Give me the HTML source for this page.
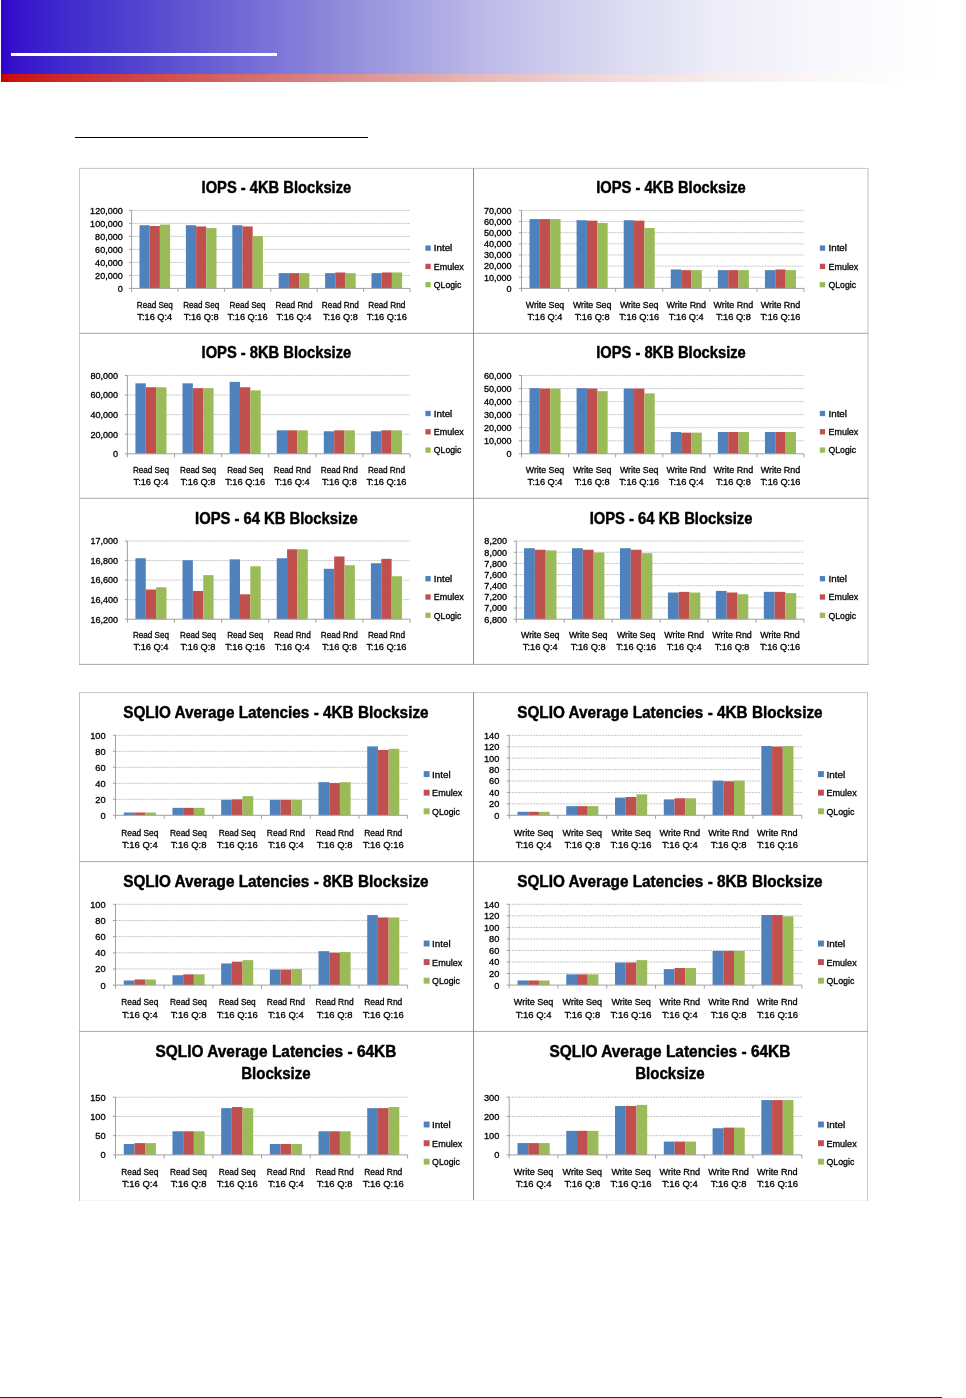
<!DOCTYPE html>
<html lang="en"><head><meta charset="utf-8"><title>IOPS and SQLIO latency charts</title>
<style>
html,body{margin:0;padding:0;background:#fff}
body{width:966px;height:1398px;position:relative;overflow:hidden;font-family:"Liberation Sans",sans-serif}
.hb{position:absolute;left:1px;top:0;width:941px;height:74.2px;background:linear-gradient(90deg,rgb(51,0,204) 1px,rgb(54,16,204) 11px,rgb(63,40,205) 59px,rgb(77,62,206) 119px,rgb(113,105,213) 240px,rgb(151,146,221) 359px,rgb(188,185,232) 482px,rgb(216,215,240) 599px,rgb(238,237,248) 719px,rgb(249,249,253) 839px,rgb(255,255,255) 941px)}
.hr{position:absolute;left:1px;top:74.2px;width:941px;height:7.7px;background:linear-gradient(90deg,rgb(204,0,0) 1px,rgb(204,16,16) 11px,rgb(205,40,40) 59px,rgb(206,62,62) 119px,rgb(213,105,105) 240px,rgb(221,146,146) 359px,rgb(232,185,185) 482px,rgb(240,215,215) 599px,rgb(248,237,237) 719px,rgb(253,249,249) 839px,rgb(255,255,255) 941px)}
.wl{position:absolute;left:11px;top:52.9px;width:266px;height:3.1px;background:#fff}
.bl{position:absolute;left:75px;top:136.8px;width:292.8px;height:1.5px;background:#000}
.fl{position:absolute;left:0;top:1396.8px;width:942px;height:1.4px;background:#3300cc}
svg text{font-family:"Liberation Sans",sans-serif;fill:#000;stroke:#000;stroke-width:.3px;stroke-linejoin:round}
svg .h{font-weight:bold;stroke-width:.45px}
svg .g{stroke:#bcbcbc;stroke-width:.9;stroke-dasharray:2 1;fill:none}
svg .a{stroke:#a0a0a0;stroke-width:1;fill:none}
svg .b{stroke:#bdbdbd;stroke-width:1;fill:none}
</style></head><body>
<div class="hb"></div><div class="hr"></div><div class="wl"></div><div class="bl"></div>
<svg width="966" height="1398" viewBox="0 0 966 1398" style="position:absolute;left:0;top:0">
<path d="M79 168.4H868.6" stroke="#c6c6c6" stroke-width="1" fill="none"/>
<path d="M79.5 168.4V664.9" stroke="#cbcbcb" stroke-width="1" fill="none"/>
<path d="M868 168.4V664.9" stroke="#d6d6d6" stroke-width="1.5" fill="none"/>
<path d="M79 664.4H868.6" stroke="#a8a8a8" stroke-width="1" fill="none"/>
<path d="M79 333.3H868.6M79 498.3H868.6" stroke="#a6a6a6" stroke-width="1" fill="none"/>
<path d="M473.5 168.4V664.4" stroke="#8e8e8e" stroke-width="1" fill="none"/>
<path d="M79 692.6H868" stroke="#c8c8c8" stroke-width="1" fill="none"/>
<path d="M79.5 692.6V1200.9" stroke="#c2c2c2" stroke-width="1" fill="none"/>
<path d="M867.5 692.6V1200.9" stroke="#c6c6c6" stroke-width="1" fill="none"/>
<path d="M79 861.6H868M79 1031.4H868" stroke="#a6a6a6" stroke-width="1" fill="none"/>
<path d="M473.5 692.6V1200.9" stroke="#8e8e8e" stroke-width="1" fill="none"/>
<path d="M80 1200.5H867" stroke="#f6f6f6" stroke-width="1" fill="none"/>
<g><line class="g" x1="131.6" y1="275.4" x2="410" y2="275.4"/>
<line class="g" x1="131.6" y1="262.4" x2="410" y2="262.4"/>
<line class="g" x1="131.6" y1="249.4" x2="410" y2="249.4"/>
<line class="g" x1="131.6" y1="236.4" x2="410" y2="236.4"/>
<line class="g" x1="131.6" y1="223.4" x2="410" y2="223.4"/>
<line class="g" x1="131.6" y1="210.4" x2="410" y2="210.4"/>
<rect x="139.5" y="225.22" width="10.2" height="63.18" fill="#4f81bd"/>
<rect x="149.7" y="226" width="10.2" height="62.4" fill="#c0504d"/>
<rect x="159.9" y="224.57" width="10.2" height="63.83" fill="#9bbb59"/>
<rect x="185.9" y="225.22" width="10.2" height="63.18" fill="#4f81bd"/>
<rect x="196.1" y="226.45" width="10.2" height="61.94" fill="#c0504d"/>
<rect x="206.3" y="228.08" width="10.2" height="60.32" fill="#9bbb59"/>
<rect x="232.3" y="225.22" width="10.2" height="63.18" fill="#4f81bd"/>
<rect x="242.5" y="226.45" width="10.2" height="61.94" fill="#c0504d"/>
<rect x="252.7" y="236.07" width="10.2" height="52.32" fill="#9bbb59"/>
<rect x="278.7" y="273.12" width="10.2" height="15.27" fill="#4f81bd"/>
<rect x="288.9" y="273.12" width="10.2" height="15.27" fill="#c0504d"/>
<rect x="299.1" y="273.12" width="10.2" height="15.27" fill="#9bbb59"/>
<rect x="325.1" y="273.12" width="10.2" height="15.27" fill="#4f81bd"/>
<rect x="335.3" y="272.47" width="10.2" height="15.92" fill="#c0504d"/>
<rect x="345.5" y="273.12" width="10.2" height="15.27" fill="#9bbb59"/>
<rect x="371.5" y="273.12" width="10.2" height="15.27" fill="#4f81bd"/>
<rect x="381.7" y="272.47" width="10.2" height="15.92" fill="#c0504d"/>
<rect x="391.9" y="272.47" width="10.2" height="15.92" fill="#9bbb59"/>
<path class="a" d="M131.6 210.4V288.4H410"/>
<path class="a" d="M129 288.4H131.6M129 275.4H131.6M129 262.4H131.6M129 249.4H131.6M129 236.4H131.6M129 223.4H131.6M129 210.4H131.6M131.6 288.4V291.9M178 288.4V291.9M224.4 288.4V291.9M270.8 288.4V291.9M317.2 288.4V291.9M363.6 288.4V291.9M410 288.4V291.9"/>
<text class="t" x="122.8" y="291.7" text-anchor="end" font-size="8.88" textLength="5.04" lengthAdjust="spacingAndGlyphs">0</text>
<text class="t" x="122.8" y="278.7" text-anchor="end" font-size="8.88" textLength="27.66" lengthAdjust="spacingAndGlyphs">20,000</text>
<text class="t" x="122.8" y="265.7" text-anchor="end" font-size="8.88" textLength="27.66" lengthAdjust="spacingAndGlyphs">40,000</text>
<text class="t" x="122.8" y="252.7" text-anchor="end" font-size="8.88" textLength="27.66" lengthAdjust="spacingAndGlyphs">60,000</text>
<text class="t" x="122.8" y="239.7" text-anchor="end" font-size="8.88" textLength="27.66" lengthAdjust="spacingAndGlyphs">80,000</text>
<text class="t" x="122.8" y="226.7" text-anchor="end" font-size="8.88" textLength="32.69" lengthAdjust="spacingAndGlyphs">100,000</text>
<text class="t" x="122.8" y="213.7" text-anchor="end" font-size="8.88" textLength="32.69" lengthAdjust="spacingAndGlyphs">120,000</text>
<text class="t" x="154.8" y="307.8" text-anchor="middle" font-size="8.88" textLength="36.03" lengthAdjust="spacingAndGlyphs">Read Seq</text>
<text class="t" x="154.8" y="319.8" text-anchor="middle" font-size="8.88" textLength="34.86" lengthAdjust="spacingAndGlyphs">T:16 Q:4</text>
<text class="t" x="201.2" y="307.8" text-anchor="middle" font-size="8.88" textLength="36.03" lengthAdjust="spacingAndGlyphs">Read Seq</text>
<text class="t" x="201.2" y="319.8" text-anchor="middle" font-size="8.88" textLength="34.86" lengthAdjust="spacingAndGlyphs">T:16 Q:8</text>
<text class="t" x="247.6" y="307.8" text-anchor="middle" font-size="8.88" textLength="36.03" lengthAdjust="spacingAndGlyphs">Read Seq</text>
<text class="t" x="247.6" y="319.8" text-anchor="middle" font-size="8.88" textLength="39.99" lengthAdjust="spacingAndGlyphs">T:16 Q:16</text>
<text class="t" x="294" y="307.8" text-anchor="middle" font-size="8.88" textLength="37.1" lengthAdjust="spacingAndGlyphs">Read Rnd</text>
<text class="t" x="294" y="319.8" text-anchor="middle" font-size="8.88" textLength="34.86" lengthAdjust="spacingAndGlyphs">T:16 Q:4</text>
<text class="t" x="340.4" y="307.8" text-anchor="middle" font-size="8.88" textLength="37.1" lengthAdjust="spacingAndGlyphs">Read Rnd</text>
<text class="t" x="340.4" y="319.8" text-anchor="middle" font-size="8.88" textLength="34.86" lengthAdjust="spacingAndGlyphs">T:16 Q:8</text>
<text class="t" x="386.8" y="307.8" text-anchor="middle" font-size="8.88" textLength="37.1" lengthAdjust="spacingAndGlyphs">Read Rnd</text>
<text class="t" x="386.8" y="319.8" text-anchor="middle" font-size="8.88" textLength="39.99" lengthAdjust="spacingAndGlyphs">T:16 Q:16</text>
<text class="h" x="276.4" y="193" text-anchor="middle" font-size="16.6" textLength="149.6" lengthAdjust="spacingAndGlyphs">IOPS - 4KB Blocksize</text>
<rect x="425.4" y="245.45" width="5.3" height="5.3" fill="#4f81bd"/>
<text class="t" x="433.8" y="251.4" font-size="8.88" textLength="18.45" lengthAdjust="spacingAndGlyphs">Intel</text>
<rect x="425.4" y="263.75" width="5.3" height="5.3" fill="#c0504d"/>
<text class="t" x="433.8" y="269.7" font-size="8.88" textLength="29.82" lengthAdjust="spacingAndGlyphs">Emulex</text>
<rect x="425.4" y="282.05" width="5.3" height="5.3" fill="#9bbb59"/>
<text class="t" x="433.8" y="288" font-size="8.88" textLength="27.52" lengthAdjust="spacingAndGlyphs">QLogic</text></g>
<g><line class="g" x1="521.5" y1="277.26" x2="804" y2="277.26"/>
<line class="g" x1="521.5" y1="266.11" x2="804" y2="266.11"/>
<line class="g" x1="521.5" y1="254.97" x2="804" y2="254.97"/>
<line class="g" x1="521.5" y1="243.83" x2="804" y2="243.83"/>
<line class="g" x1="521.5" y1="232.69" x2="804" y2="232.69"/>
<line class="g" x1="521.5" y1="221.54" x2="804" y2="221.54"/>
<line class="g" x1="521.5" y1="210.4" x2="804" y2="210.4"/>
<rect x="529.52" y="219.09" width="10.35" height="69.31" fill="#4f81bd"/>
<rect x="539.87" y="219.09" width="10.35" height="69.31" fill="#c0504d"/>
<rect x="550.22" y="219.09" width="10.35" height="69.31" fill="#9bbb59"/>
<rect x="576.6" y="220.21" width="10.35" height="68.19" fill="#4f81bd"/>
<rect x="586.95" y="220.65" width="10.35" height="67.75" fill="#c0504d"/>
<rect x="597.3" y="222.99" width="10.35" height="65.41" fill="#9bbb59"/>
<rect x="623.69" y="220.21" width="10.35" height="68.19" fill="#4f81bd"/>
<rect x="634.03" y="220.65" width="10.35" height="67.75" fill="#c0504d"/>
<rect x="644.38" y="228.01" width="10.35" height="60.39" fill="#9bbb59"/>
<rect x="670.77" y="269.46" width="10.35" height="18.94" fill="#4f81bd"/>
<rect x="681.12" y="270.13" width="10.35" height="18.27" fill="#c0504d"/>
<rect x="691.47" y="270.13" width="10.35" height="18.27" fill="#9bbb59"/>
<rect x="717.85" y="270.13" width="10.35" height="18.27" fill="#4f81bd"/>
<rect x="728.2" y="270.13" width="10.35" height="18.27" fill="#c0504d"/>
<rect x="738.55" y="270.13" width="10.35" height="18.27" fill="#9bbb59"/>
<rect x="764.94" y="270.13" width="10.35" height="18.27" fill="#4f81bd"/>
<rect x="775.28" y="269.46" width="10.35" height="18.94" fill="#c0504d"/>
<rect x="785.63" y="270.13" width="10.35" height="18.27" fill="#9bbb59"/>
<path class="a" d="M521.5 210.4V288.4H804"/>
<path class="a" d="M518.9 288.4H521.5M518.9 277.26H521.5M518.9 266.11H521.5M518.9 254.97H521.5M518.9 243.83H521.5M518.9 232.69H521.5M518.9 221.54H521.5M518.9 210.4H521.5M521.5 288.4V291.9M568.58 288.4V291.9M615.67 288.4V291.9M662.75 288.4V291.9M709.83 288.4V291.9M756.92 288.4V291.9M804 288.4V291.9"/>
<text class="t" x="511.6" y="291.7" text-anchor="end" font-size="8.88" textLength="5.04" lengthAdjust="spacingAndGlyphs">0</text>
<text class="t" x="511.6" y="280.56" text-anchor="end" font-size="8.88" textLength="27.66" lengthAdjust="spacingAndGlyphs">10,000</text>
<text class="t" x="511.6" y="269.41" text-anchor="end" font-size="8.88" textLength="27.66" lengthAdjust="spacingAndGlyphs">20,000</text>
<text class="t" x="511.6" y="258.27" text-anchor="end" font-size="8.88" textLength="27.66" lengthAdjust="spacingAndGlyphs">30,000</text>
<text class="t" x="511.6" y="247.13" text-anchor="end" font-size="8.88" textLength="27.66" lengthAdjust="spacingAndGlyphs">40,000</text>
<text class="t" x="511.6" y="235.99" text-anchor="end" font-size="8.88" textLength="27.66" lengthAdjust="spacingAndGlyphs">50,000</text>
<text class="t" x="511.6" y="224.84" text-anchor="end" font-size="8.88" textLength="27.66" lengthAdjust="spacingAndGlyphs">60,000</text>
<text class="t" x="511.6" y="213.7" text-anchor="end" font-size="8.88" textLength="27.66" lengthAdjust="spacingAndGlyphs">70,000</text>
<text class="t" x="545.04" y="307.8" text-anchor="middle" font-size="8.88" textLength="38.48" lengthAdjust="spacingAndGlyphs">Write Seq</text>
<text class="t" x="545.04" y="319.8" text-anchor="middle" font-size="8.88" textLength="34.86" lengthAdjust="spacingAndGlyphs">T:16 Q:4</text>
<text class="t" x="592.12" y="307.8" text-anchor="middle" font-size="8.88" textLength="38.48" lengthAdjust="spacingAndGlyphs">Write Seq</text>
<text class="t" x="592.12" y="319.8" text-anchor="middle" font-size="8.88" textLength="34.86" lengthAdjust="spacingAndGlyphs">T:16 Q:8</text>
<text class="t" x="639.21" y="307.8" text-anchor="middle" font-size="8.88" textLength="38.48" lengthAdjust="spacingAndGlyphs">Write Seq</text>
<text class="t" x="639.21" y="319.8" text-anchor="middle" font-size="8.88" textLength="39.99" lengthAdjust="spacingAndGlyphs">T:16 Q:16</text>
<text class="t" x="686.29" y="307.8" text-anchor="middle" font-size="8.88" textLength="39.55" lengthAdjust="spacingAndGlyphs">Write Rnd</text>
<text class="t" x="686.29" y="319.8" text-anchor="middle" font-size="8.88" textLength="34.86" lengthAdjust="spacingAndGlyphs">T:16 Q:4</text>
<text class="t" x="733.38" y="307.8" text-anchor="middle" font-size="8.88" textLength="39.55" lengthAdjust="spacingAndGlyphs">Write Rnd</text>
<text class="t" x="733.38" y="319.8" text-anchor="middle" font-size="8.88" textLength="34.86" lengthAdjust="spacingAndGlyphs">T:16 Q:8</text>
<text class="t" x="780.46" y="307.8" text-anchor="middle" font-size="8.88" textLength="39.55" lengthAdjust="spacingAndGlyphs">Write Rnd</text>
<text class="t" x="780.46" y="319.8" text-anchor="middle" font-size="8.88" textLength="39.99" lengthAdjust="spacingAndGlyphs">T:16 Q:16</text>
<text class="h" x="671" y="193" text-anchor="middle" font-size="16.6" textLength="149.6" lengthAdjust="spacingAndGlyphs">IOPS - 4KB Blocksize</text>
<rect x="819.8" y="245.45" width="5.3" height="5.3" fill="#4f81bd"/>
<text class="t" x="828.5" y="251.4" font-size="8.88" textLength="18.45" lengthAdjust="spacingAndGlyphs">Intel</text>
<rect x="819.8" y="263.75" width="5.3" height="5.3" fill="#c0504d"/>
<text class="t" x="828.5" y="269.7" font-size="8.88" textLength="29.82" lengthAdjust="spacingAndGlyphs">Emulex</text>
<rect x="819.8" y="282.05" width="5.3" height="5.3" fill="#9bbb59"/>
<text class="t" x="828.5" y="288" font-size="8.88" textLength="27.52" lengthAdjust="spacingAndGlyphs">QLogic</text></g>
<g><line class="g" x1="127.4" y1="434.23" x2="410" y2="434.23"/>
<line class="g" x1="127.4" y1="414.65" x2="410" y2="414.65"/>
<line class="g" x1="127.4" y1="395.07" x2="410" y2="395.07"/>
<line class="g" x1="127.4" y1="375.5" x2="410" y2="375.5"/>
<rect x="135.42" y="383.33" width="10.35" height="70.47" fill="#4f81bd"/>
<rect x="145.77" y="387.25" width="10.35" height="66.56" fill="#c0504d"/>
<rect x="156.13" y="387.25" width="10.35" height="66.56" fill="#9bbb59"/>
<rect x="182.52" y="383.33" width="10.35" height="70.47" fill="#4f81bd"/>
<rect x="192.87" y="388.13" width="10.35" height="65.67" fill="#c0504d"/>
<rect x="203.23" y="388.13" width="10.35" height="65.67" fill="#9bbb59"/>
<rect x="229.62" y="381.86" width="10.35" height="71.94" fill="#4f81bd"/>
<rect x="239.97" y="387.25" width="10.35" height="66.56" fill="#c0504d"/>
<rect x="250.33" y="390.38" width="10.35" height="63.42" fill="#9bbb59"/>
<rect x="276.72" y="430.31" width="10.35" height="23.49" fill="#4f81bd"/>
<rect x="287.07" y="430.31" width="10.35" height="23.49" fill="#c0504d"/>
<rect x="297.43" y="430.31" width="10.35" height="23.49" fill="#9bbb59"/>
<rect x="323.82" y="431.29" width="10.35" height="22.51" fill="#4f81bd"/>
<rect x="334.17" y="430.31" width="10.35" height="23.49" fill="#c0504d"/>
<rect x="344.53" y="430.31" width="10.35" height="23.49" fill="#9bbb59"/>
<rect x="370.92" y="431.29" width="10.35" height="22.51" fill="#4f81bd"/>
<rect x="381.27" y="430.31" width="10.35" height="23.49" fill="#c0504d"/>
<rect x="391.63" y="430.31" width="10.35" height="23.49" fill="#9bbb59"/>
<path class="a" d="M127.4 375.5V453.8H410"/>
<path class="a" d="M124.8 453.8H127.4M124.8 434.23H127.4M124.8 414.65H127.4M124.8 395.07H127.4M124.8 375.5H127.4M127.4 453.8V457.3M174.5 453.8V457.3M221.6 453.8V457.3M268.7 453.8V457.3M315.8 453.8V457.3M362.9 453.8V457.3M410 453.8V457.3"/>
<text class="t" x="118.1" y="457.1" text-anchor="end" font-size="8.88" textLength="5.04" lengthAdjust="spacingAndGlyphs">0</text>
<text class="t" x="118.1" y="437.53" text-anchor="end" font-size="8.88" textLength="27.66" lengthAdjust="spacingAndGlyphs">20,000</text>
<text class="t" x="118.1" y="417.95" text-anchor="end" font-size="8.88" textLength="27.66" lengthAdjust="spacingAndGlyphs">40,000</text>
<text class="t" x="118.1" y="398.38" text-anchor="end" font-size="8.88" textLength="27.66" lengthAdjust="spacingAndGlyphs">60,000</text>
<text class="t" x="118.1" y="378.8" text-anchor="end" font-size="8.88" textLength="27.66" lengthAdjust="spacingAndGlyphs">80,000</text>
<text class="t" x="150.95" y="473.2" text-anchor="middle" font-size="8.88" textLength="36.03" lengthAdjust="spacingAndGlyphs">Read Seq</text>
<text class="t" x="150.95" y="485.2" text-anchor="middle" font-size="8.88" textLength="34.86" lengthAdjust="spacingAndGlyphs">T:16 Q:4</text>
<text class="t" x="198.05" y="473.2" text-anchor="middle" font-size="8.88" textLength="36.03" lengthAdjust="spacingAndGlyphs">Read Seq</text>
<text class="t" x="198.05" y="485.2" text-anchor="middle" font-size="8.88" textLength="34.86" lengthAdjust="spacingAndGlyphs">T:16 Q:8</text>
<text class="t" x="245.15" y="473.2" text-anchor="middle" font-size="8.88" textLength="36.03" lengthAdjust="spacingAndGlyphs">Read Seq</text>
<text class="t" x="245.15" y="485.2" text-anchor="middle" font-size="8.88" textLength="39.99" lengthAdjust="spacingAndGlyphs">T:16 Q:16</text>
<text class="t" x="292.25" y="473.2" text-anchor="middle" font-size="8.88" textLength="37.1" lengthAdjust="spacingAndGlyphs">Read Rnd</text>
<text class="t" x="292.25" y="485.2" text-anchor="middle" font-size="8.88" textLength="34.86" lengthAdjust="spacingAndGlyphs">T:16 Q:4</text>
<text class="t" x="339.35" y="473.2" text-anchor="middle" font-size="8.88" textLength="37.1" lengthAdjust="spacingAndGlyphs">Read Rnd</text>
<text class="t" x="339.35" y="485.2" text-anchor="middle" font-size="8.88" textLength="34.86" lengthAdjust="spacingAndGlyphs">T:16 Q:8</text>
<text class="t" x="386.45" y="473.2" text-anchor="middle" font-size="8.88" textLength="37.1" lengthAdjust="spacingAndGlyphs">Read Rnd</text>
<text class="t" x="386.45" y="485.2" text-anchor="middle" font-size="8.88" textLength="39.99" lengthAdjust="spacingAndGlyphs">T:16 Q:16</text>
<text class="h" x="276.4" y="358.4" text-anchor="middle" font-size="16.6" textLength="149.6" lengthAdjust="spacingAndGlyphs">IOPS - 8KB Blocksize</text>
<rect x="425.4" y="410.85" width="5.3" height="5.3" fill="#4f81bd"/>
<text class="t" x="433.8" y="416.8" font-size="8.88" textLength="18.45" lengthAdjust="spacingAndGlyphs">Intel</text>
<rect x="425.4" y="429.15" width="5.3" height="5.3" fill="#c0504d"/>
<text class="t" x="433.8" y="435.1" font-size="8.88" textLength="29.82" lengthAdjust="spacingAndGlyphs">Emulex</text>
<rect x="425.4" y="447.45" width="5.3" height="5.3" fill="#9bbb59"/>
<text class="t" x="433.8" y="453.4" font-size="8.88" textLength="27.52" lengthAdjust="spacingAndGlyphs">QLogic</text></g>
<g><line class="g" x1="521.5" y1="440.75" x2="804" y2="440.75"/>
<line class="g" x1="521.5" y1="427.7" x2="804" y2="427.7"/>
<line class="g" x1="521.5" y1="414.65" x2="804" y2="414.65"/>
<line class="g" x1="521.5" y1="401.6" x2="804" y2="401.6"/>
<line class="g" x1="521.5" y1="388.55" x2="804" y2="388.55"/>
<line class="g" x1="521.5" y1="375.5" x2="804" y2="375.5"/>
<rect x="529.52" y="388.16" width="10.35" height="65.64" fill="#4f81bd"/>
<rect x="539.87" y="388.55" width="10.35" height="65.25" fill="#c0504d"/>
<rect x="550.22" y="388.55" width="10.35" height="65.25" fill="#9bbb59"/>
<rect x="576.6" y="388.16" width="10.35" height="65.64" fill="#4f81bd"/>
<rect x="586.95" y="388.55" width="10.35" height="65.25" fill="#c0504d"/>
<rect x="597.3" y="391.16" width="10.35" height="62.64" fill="#9bbb59"/>
<rect x="623.69" y="388.55" width="10.35" height="65.25" fill="#4f81bd"/>
<rect x="634.03" y="388.55" width="10.35" height="65.25" fill="#c0504d"/>
<rect x="644.38" y="393.38" width="10.35" height="60.42" fill="#9bbb59"/>
<rect x="670.77" y="432.01" width="10.35" height="21.79" fill="#4f81bd"/>
<rect x="681.12" y="432.66" width="10.35" height="21.14" fill="#c0504d"/>
<rect x="691.47" y="432.66" width="10.35" height="21.14" fill="#9bbb59"/>
<rect x="717.85" y="432.01" width="10.35" height="21.79" fill="#4f81bd"/>
<rect x="728.2" y="432.01" width="10.35" height="21.79" fill="#c0504d"/>
<rect x="738.55" y="432.01" width="10.35" height="21.79" fill="#9bbb59"/>
<rect x="764.94" y="432.01" width="10.35" height="21.79" fill="#4f81bd"/>
<rect x="775.28" y="432.01" width="10.35" height="21.79" fill="#c0504d"/>
<rect x="785.63" y="432.01" width="10.35" height="21.79" fill="#9bbb59"/>
<path class="a" d="M521.5 375.5V453.8H804"/>
<path class="a" d="M518.9 453.8H521.5M518.9 440.75H521.5M518.9 427.7H521.5M518.9 414.65H521.5M518.9 401.6H521.5M518.9 388.55H521.5M518.9 375.5H521.5M521.5 453.8V457.3M568.58 453.8V457.3M615.67 453.8V457.3M662.75 453.8V457.3M709.83 453.8V457.3M756.92 453.8V457.3M804 453.8V457.3"/>
<text class="t" x="511.6" y="457.1" text-anchor="end" font-size="8.88" textLength="5.04" lengthAdjust="spacingAndGlyphs">0</text>
<text class="t" x="511.6" y="444.05" text-anchor="end" font-size="8.88" textLength="27.66" lengthAdjust="spacingAndGlyphs">10,000</text>
<text class="t" x="511.6" y="431" text-anchor="end" font-size="8.88" textLength="27.66" lengthAdjust="spacingAndGlyphs">20,000</text>
<text class="t" x="511.6" y="417.95" text-anchor="end" font-size="8.88" textLength="27.66" lengthAdjust="spacingAndGlyphs">30,000</text>
<text class="t" x="511.6" y="404.9" text-anchor="end" font-size="8.88" textLength="27.66" lengthAdjust="spacingAndGlyphs">40,000</text>
<text class="t" x="511.6" y="391.85" text-anchor="end" font-size="8.88" textLength="27.66" lengthAdjust="spacingAndGlyphs">50,000</text>
<text class="t" x="511.6" y="378.8" text-anchor="end" font-size="8.88" textLength="27.66" lengthAdjust="spacingAndGlyphs">60,000</text>
<text class="t" x="545.04" y="473.2" text-anchor="middle" font-size="8.88" textLength="38.48" lengthAdjust="spacingAndGlyphs">Write Seq</text>
<text class="t" x="545.04" y="485.2" text-anchor="middle" font-size="8.88" textLength="34.86" lengthAdjust="spacingAndGlyphs">T:16 Q:4</text>
<text class="t" x="592.12" y="473.2" text-anchor="middle" font-size="8.88" textLength="38.48" lengthAdjust="spacingAndGlyphs">Write Seq</text>
<text class="t" x="592.12" y="485.2" text-anchor="middle" font-size="8.88" textLength="34.86" lengthAdjust="spacingAndGlyphs">T:16 Q:8</text>
<text class="t" x="639.21" y="473.2" text-anchor="middle" font-size="8.88" textLength="38.48" lengthAdjust="spacingAndGlyphs">Write Seq</text>
<text class="t" x="639.21" y="485.2" text-anchor="middle" font-size="8.88" textLength="39.99" lengthAdjust="spacingAndGlyphs">T:16 Q:16</text>
<text class="t" x="686.29" y="473.2" text-anchor="middle" font-size="8.88" textLength="39.55" lengthAdjust="spacingAndGlyphs">Write Rnd</text>
<text class="t" x="686.29" y="485.2" text-anchor="middle" font-size="8.88" textLength="34.86" lengthAdjust="spacingAndGlyphs">T:16 Q:4</text>
<text class="t" x="733.38" y="473.2" text-anchor="middle" font-size="8.88" textLength="39.55" lengthAdjust="spacingAndGlyphs">Write Rnd</text>
<text class="t" x="733.38" y="485.2" text-anchor="middle" font-size="8.88" textLength="34.86" lengthAdjust="spacingAndGlyphs">T:16 Q:8</text>
<text class="t" x="780.46" y="473.2" text-anchor="middle" font-size="8.88" textLength="39.55" lengthAdjust="spacingAndGlyphs">Write Rnd</text>
<text class="t" x="780.46" y="485.2" text-anchor="middle" font-size="8.88" textLength="39.99" lengthAdjust="spacingAndGlyphs">T:16 Q:16</text>
<text class="h" x="671" y="358.4" text-anchor="middle" font-size="16.6" textLength="149.6" lengthAdjust="spacingAndGlyphs">IOPS - 8KB Blocksize</text>
<rect x="819.8" y="410.85" width="5.3" height="5.3" fill="#4f81bd"/>
<text class="t" x="828.5" y="416.8" font-size="8.88" textLength="18.45" lengthAdjust="spacingAndGlyphs">Intel</text>
<rect x="819.8" y="429.15" width="5.3" height="5.3" fill="#c0504d"/>
<text class="t" x="828.5" y="435.1" font-size="8.88" textLength="29.82" lengthAdjust="spacingAndGlyphs">Emulex</text>
<rect x="819.8" y="447.45" width="5.3" height="5.3" fill="#9bbb59"/>
<text class="t" x="828.5" y="453.4" font-size="8.88" textLength="27.52" lengthAdjust="spacingAndGlyphs">QLogic</text></g>
<g><line class="g" x1="127.4" y1="599.66" x2="410" y2="599.66"/>
<line class="g" x1="127.4" y1="580.12" x2="410" y2="580.12"/>
<line class="g" x1="127.4" y1="560.59" x2="410" y2="560.59"/>
<line class="g" x1="127.4" y1="541.05" x2="410" y2="541.05"/>
<rect x="135.42" y="558.24" width="10.35" height="60.96" fill="#4f81bd"/>
<rect x="145.77" y="589.5" width="10.35" height="29.7" fill="#c0504d"/>
<rect x="156.13" y="587.26" width="10.35" height="31.94" fill="#9bbb59"/>
<rect x="182.52" y="560.2" width="10.35" height="59" fill="#4f81bd"/>
<rect x="192.87" y="590.97" width="10.35" height="28.23" fill="#c0504d"/>
<rect x="203.23" y="575.14" width="10.35" height="44.06" fill="#9bbb59"/>
<rect x="229.62" y="559.32" width="10.35" height="59.88" fill="#4f81bd"/>
<rect x="239.97" y="594.29" width="10.35" height="24.91" fill="#c0504d"/>
<rect x="250.33" y="566.25" width="10.35" height="52.95" fill="#9bbb59"/>
<rect x="276.72" y="558.24" width="10.35" height="60.96" fill="#4f81bd"/>
<rect x="287.07" y="549.26" width="10.35" height="69.94" fill="#c0504d"/>
<rect x="297.43" y="549.26" width="10.35" height="69.94" fill="#9bbb59"/>
<rect x="323.82" y="568.79" width="10.35" height="50.41" fill="#4f81bd"/>
<rect x="334.17" y="556.48" width="10.35" height="62.72" fill="#c0504d"/>
<rect x="344.53" y="565.18" width="10.35" height="54.02" fill="#9bbb59"/>
<rect x="370.92" y="563.23" width="10.35" height="55.97" fill="#4f81bd"/>
<rect x="381.27" y="558.83" width="10.35" height="60.37" fill="#c0504d"/>
<rect x="391.63" y="576.22" width="10.35" height="42.98" fill="#9bbb59"/>
<path class="a" d="M127.4 541.05V619.2H410"/>
<path class="a" d="M124.8 619.2H127.4M124.8 599.66H127.4M124.8 580.12H127.4M124.8 560.59H127.4M124.8 541.05H127.4M127.4 619.2V622.7M174.5 619.2V622.7M221.6 619.2V622.7M268.7 619.2V622.7M315.8 619.2V622.7M362.9 619.2V622.7M410 619.2V622.7"/>
<text class="t" x="118.1" y="622.5" text-anchor="end" font-size="8.88" textLength="27.66" lengthAdjust="spacingAndGlyphs">16,200</text>
<text class="t" x="118.1" y="602.96" text-anchor="end" font-size="8.88" textLength="27.66" lengthAdjust="spacingAndGlyphs">16,400</text>
<text class="t" x="118.1" y="583.42" text-anchor="end" font-size="8.88" textLength="27.66" lengthAdjust="spacingAndGlyphs">16,600</text>
<text class="t" x="118.1" y="563.89" text-anchor="end" font-size="8.88" textLength="27.66" lengthAdjust="spacingAndGlyphs">16,800</text>
<text class="t" x="118.1" y="544.35" text-anchor="end" font-size="8.88" textLength="27.66" lengthAdjust="spacingAndGlyphs">17,000</text>
<text class="t" x="150.95" y="638.4" text-anchor="middle" font-size="8.88" textLength="36.03" lengthAdjust="spacingAndGlyphs">Read Seq</text>
<text class="t" x="150.95" y="650.4" text-anchor="middle" font-size="8.88" textLength="34.86" lengthAdjust="spacingAndGlyphs">T:16 Q:4</text>
<text class="t" x="198.05" y="638.4" text-anchor="middle" font-size="8.88" textLength="36.03" lengthAdjust="spacingAndGlyphs">Read Seq</text>
<text class="t" x="198.05" y="650.4" text-anchor="middle" font-size="8.88" textLength="34.86" lengthAdjust="spacingAndGlyphs">T:16 Q:8</text>
<text class="t" x="245.15" y="638.4" text-anchor="middle" font-size="8.88" textLength="36.03" lengthAdjust="spacingAndGlyphs">Read Seq</text>
<text class="t" x="245.15" y="650.4" text-anchor="middle" font-size="8.88" textLength="39.99" lengthAdjust="spacingAndGlyphs">T:16 Q:16</text>
<text class="t" x="292.25" y="638.4" text-anchor="middle" font-size="8.88" textLength="37.1" lengthAdjust="spacingAndGlyphs">Read Rnd</text>
<text class="t" x="292.25" y="650.4" text-anchor="middle" font-size="8.88" textLength="34.86" lengthAdjust="spacingAndGlyphs">T:16 Q:4</text>
<text class="t" x="339.35" y="638.4" text-anchor="middle" font-size="8.88" textLength="37.1" lengthAdjust="spacingAndGlyphs">Read Rnd</text>
<text class="t" x="339.35" y="650.4" text-anchor="middle" font-size="8.88" textLength="34.86" lengthAdjust="spacingAndGlyphs">T:16 Q:8</text>
<text class="t" x="386.45" y="638.4" text-anchor="middle" font-size="8.88" textLength="37.1" lengthAdjust="spacingAndGlyphs">Read Rnd</text>
<text class="t" x="386.45" y="650.4" text-anchor="middle" font-size="8.88" textLength="39.99" lengthAdjust="spacingAndGlyphs">T:16 Q:16</text>
<text class="h" x="276.4" y="523.6" text-anchor="middle" font-size="16.6" textLength="162.75" lengthAdjust="spacingAndGlyphs">IOPS - 64 KB Blocksize</text>
<rect x="425.4" y="576.05" width="5.3" height="5.3" fill="#4f81bd"/>
<text class="t" x="433.8" y="582" font-size="8.88" textLength="18.45" lengthAdjust="spacingAndGlyphs">Intel</text>
<rect x="425.4" y="594.35" width="5.3" height="5.3" fill="#c0504d"/>
<text class="t" x="433.8" y="600.3" font-size="8.88" textLength="29.82" lengthAdjust="spacingAndGlyphs">Emulex</text>
<rect x="425.4" y="612.65" width="5.3" height="5.3" fill="#9bbb59"/>
<text class="t" x="433.8" y="618.6" font-size="8.88" textLength="27.52" lengthAdjust="spacingAndGlyphs">QLogic</text></g>
<g><line class="g" x1="516.3" y1="608.04" x2="804" y2="608.04"/>
<line class="g" x1="516.3" y1="596.87" x2="804" y2="596.87"/>
<line class="g" x1="516.3" y1="585.71" x2="804" y2="585.71"/>
<line class="g" x1="516.3" y1="574.54" x2="804" y2="574.54"/>
<line class="g" x1="516.3" y1="563.38" x2="804" y2="563.38"/>
<line class="g" x1="516.3" y1="552.21" x2="804" y2="552.21"/>
<line class="g" x1="516.3" y1="541.05" x2="804" y2="541.05"/>
<rect x="524.07" y="548.2" width="10.8" height="71" fill="#4f81bd"/>
<rect x="534.87" y="549.76" width="10.8" height="69.44" fill="#c0504d"/>
<rect x="545.67" y="550.37" width="10.8" height="68.83" fill="#9bbb59"/>
<rect x="572.02" y="548.2" width="10.8" height="71" fill="#4f81bd"/>
<rect x="582.82" y="549.76" width="10.8" height="69.44" fill="#c0504d"/>
<rect x="593.62" y="552.55" width="10.8" height="66.65" fill="#9bbb59"/>
<rect x="619.97" y="548.2" width="10.8" height="71" fill="#4f81bd"/>
<rect x="630.77" y="549.76" width="10.8" height="69.44" fill="#c0504d"/>
<rect x="641.57" y="553.22" width="10.8" height="65.98" fill="#9bbb59"/>
<rect x="667.92" y="592.52" width="10.8" height="26.68" fill="#4f81bd"/>
<rect x="678.72" y="591.85" width="10.8" height="27.35" fill="#c0504d"/>
<rect x="689.52" y="592.52" width="10.8" height="26.68" fill="#9bbb59"/>
<rect x="715.88" y="590.95" width="10.8" height="28.25" fill="#4f81bd"/>
<rect x="726.67" y="592.52" width="10.8" height="26.68" fill="#c0504d"/>
<rect x="737.48" y="594.25" width="10.8" height="24.95" fill="#9bbb59"/>
<rect x="763.82" y="591.85" width="10.8" height="27.35" fill="#4f81bd"/>
<rect x="774.62" y="591.85" width="10.8" height="27.35" fill="#c0504d"/>
<rect x="785.42" y="593.13" width="10.8" height="26.07" fill="#9bbb59"/>
<path class="a" d="M516.3 541.05V619.2H804"/>
<path class="a" d="M513.7 619.2H516.3M513.7 608.04H516.3M513.7 596.87H516.3M513.7 585.71H516.3M513.7 574.54H516.3M513.7 563.38H516.3M513.7 552.21H516.3M513.7 541.05H516.3M516.3 619.2V622.7M564.25 619.2V622.7M612.2 619.2V622.7M660.15 619.2V622.7M708.1 619.2V622.7M756.05 619.2V622.7M804 619.2V622.7"/>
<text class="t" x="507" y="622.5" text-anchor="end" font-size="8.88" textLength="22.62" lengthAdjust="spacingAndGlyphs">6,800</text>
<text class="t" x="507" y="611.34" text-anchor="end" font-size="8.88" textLength="22.62" lengthAdjust="spacingAndGlyphs">7,000</text>
<text class="t" x="507" y="600.17" text-anchor="end" font-size="8.88" textLength="22.62" lengthAdjust="spacingAndGlyphs">7,200</text>
<text class="t" x="507" y="589.01" text-anchor="end" font-size="8.88" textLength="22.62" lengthAdjust="spacingAndGlyphs">7,400</text>
<text class="t" x="507" y="577.84" text-anchor="end" font-size="8.88" textLength="22.62" lengthAdjust="spacingAndGlyphs">7,600</text>
<text class="t" x="507" y="566.68" text-anchor="end" font-size="8.88" textLength="22.62" lengthAdjust="spacingAndGlyphs">7,800</text>
<text class="t" x="507" y="555.51" text-anchor="end" font-size="8.88" textLength="22.62" lengthAdjust="spacingAndGlyphs">8,000</text>
<text class="t" x="507" y="544.35" text-anchor="end" font-size="8.88" textLength="22.62" lengthAdjust="spacingAndGlyphs">8,200</text>
<text class="t" x="540.27" y="638.4" text-anchor="middle" font-size="8.88" textLength="38.48" lengthAdjust="spacingAndGlyphs">Write Seq</text>
<text class="t" x="540.27" y="650.4" text-anchor="middle" font-size="8.88" textLength="34.86" lengthAdjust="spacingAndGlyphs">T:16 Q:4</text>
<text class="t" x="588.22" y="638.4" text-anchor="middle" font-size="8.88" textLength="38.48" lengthAdjust="spacingAndGlyphs">Write Seq</text>
<text class="t" x="588.22" y="650.4" text-anchor="middle" font-size="8.88" textLength="34.86" lengthAdjust="spacingAndGlyphs">T:16 Q:8</text>
<text class="t" x="636.17" y="638.4" text-anchor="middle" font-size="8.88" textLength="38.48" lengthAdjust="spacingAndGlyphs">Write Seq</text>
<text class="t" x="636.17" y="650.4" text-anchor="middle" font-size="8.88" textLength="39.99" lengthAdjust="spacingAndGlyphs">T:16 Q:16</text>
<text class="t" x="684.12" y="638.4" text-anchor="middle" font-size="8.88" textLength="39.55" lengthAdjust="spacingAndGlyphs">Write Rnd</text>
<text class="t" x="684.12" y="650.4" text-anchor="middle" font-size="8.88" textLength="34.86" lengthAdjust="spacingAndGlyphs">T:16 Q:4</text>
<text class="t" x="732.08" y="638.4" text-anchor="middle" font-size="8.88" textLength="39.55" lengthAdjust="spacingAndGlyphs">Write Rnd</text>
<text class="t" x="732.08" y="650.4" text-anchor="middle" font-size="8.88" textLength="34.86" lengthAdjust="spacingAndGlyphs">T:16 Q:8</text>
<text class="t" x="780.03" y="638.4" text-anchor="middle" font-size="8.88" textLength="39.55" lengthAdjust="spacingAndGlyphs">Write Rnd</text>
<text class="t" x="780.03" y="650.4" text-anchor="middle" font-size="8.88" textLength="39.99" lengthAdjust="spacingAndGlyphs">T:16 Q:16</text>
<text class="h" x="671" y="523.6" text-anchor="middle" font-size="16.6" textLength="162.75" lengthAdjust="spacingAndGlyphs">IOPS - 64 KB Blocksize</text>
<rect x="819.8" y="576.05" width="5.3" height="5.3" fill="#4f81bd"/>
<text class="t" x="828.5" y="582" font-size="8.88" textLength="18.45" lengthAdjust="spacingAndGlyphs">Intel</text>
<rect x="819.8" y="594.35" width="5.3" height="5.3" fill="#c0504d"/>
<text class="t" x="828.5" y="600.3" font-size="8.88" textLength="29.82" lengthAdjust="spacingAndGlyphs">Emulex</text>
<rect x="819.8" y="612.65" width="5.3" height="5.3" fill="#9bbb59"/>
<text class="t" x="828.5" y="618.6" font-size="8.88" textLength="27.52" lengthAdjust="spacingAndGlyphs">QLogic</text></g>
<g><line class="g" x1="115.5" y1="799.3" x2="407.6" y2="799.3"/>
<line class="g" x1="115.5" y1="783.3" x2="407.6" y2="783.3"/>
<line class="g" x1="115.5" y1="767.3" x2="407.6" y2="767.3"/>
<line class="g" x1="115.5" y1="751.3" x2="407.6" y2="751.3"/>
<line class="g" x1="115.5" y1="735.3" x2="407.6" y2="735.3"/>
<rect x="123.79" y="812.5" width="10.7" height="2.8" fill="#4f81bd"/>
<rect x="134.49" y="812.5" width="10.7" height="2.8" fill="#c0504d"/>
<rect x="145.19" y="812.5" width="10.7" height="2.8" fill="#9bbb59"/>
<rect x="172.48" y="807.86" width="10.7" height="7.44" fill="#4f81bd"/>
<rect x="183.18" y="807.86" width="10.7" height="7.44" fill="#c0504d"/>
<rect x="193.87" y="807.86" width="10.7" height="7.44" fill="#9bbb59"/>
<rect x="221.16" y="799.86" width="10.7" height="15.44" fill="#4f81bd"/>
<rect x="231.86" y="799.38" width="10.7" height="15.92" fill="#c0504d"/>
<rect x="242.56" y="796.1" width="10.7" height="19.2" fill="#9bbb59"/>
<rect x="269.84" y="799.86" width="10.7" height="15.44" fill="#4f81bd"/>
<rect x="280.54" y="799.86" width="10.7" height="15.44" fill="#c0504d"/>
<rect x="291.24" y="799.86" width="10.7" height="15.44" fill="#9bbb59"/>
<rect x="318.53" y="782.18" width="10.7" height="33.12" fill="#4f81bd"/>
<rect x="329.23" y="783.06" width="10.7" height="32.24" fill="#c0504d"/>
<rect x="339.92" y="782.18" width="10.7" height="33.12" fill="#9bbb59"/>
<rect x="367.21" y="746.42" width="10.7" height="68.88" fill="#4f81bd"/>
<rect x="377.91" y="749.94" width="10.7" height="65.36" fill="#c0504d"/>
<rect x="388.61" y="748.82" width="10.7" height="66.48" fill="#9bbb59"/>
<path class="a" d="M115.5 735.3V815.3H407.6"/>
<path class="a" d="M112.9 815.3H115.5M112.9 799.3H115.5M112.9 783.3H115.5M112.9 767.3H115.5M112.9 751.3H115.5M112.9 735.3H115.5M115.5 815.3V818.8M164.18 815.3V818.8M212.87 815.3V818.8M261.55 815.3V818.8M310.23 815.3V818.8M358.92 815.3V818.8M407.6 815.3V818.8"/>
<text class="t" x="105.7" y="818.7" text-anchor="end" font-size="9.11" textLength="5.17" lengthAdjust="spacingAndGlyphs">0</text>
<text class="t" x="105.7" y="802.7" text-anchor="end" font-size="9.11" textLength="10.33" lengthAdjust="spacingAndGlyphs">20</text>
<text class="t" x="105.7" y="786.7" text-anchor="end" font-size="9.11" textLength="10.33" lengthAdjust="spacingAndGlyphs">40</text>
<text class="t" x="105.7" y="770.7" text-anchor="end" font-size="9.11" textLength="10.33" lengthAdjust="spacingAndGlyphs">60</text>
<text class="t" x="105.7" y="754.7" text-anchor="end" font-size="9.11" textLength="10.33" lengthAdjust="spacingAndGlyphs">80</text>
<text class="t" x="105.7" y="738.7" text-anchor="end" font-size="9.11" textLength="15.5" lengthAdjust="spacingAndGlyphs">100</text>
<text class="t" x="139.84" y="835.8" text-anchor="middle" font-size="9.11" textLength="36.97" lengthAdjust="spacingAndGlyphs">Read Seq</text>
<text class="t" x="139.84" y="848.2" text-anchor="middle" font-size="9.11" textLength="35.77" lengthAdjust="spacingAndGlyphs">T:16 Q:4</text>
<text class="t" x="188.53" y="835.8" text-anchor="middle" font-size="9.11" textLength="36.97" lengthAdjust="spacingAndGlyphs">Read Seq</text>
<text class="t" x="188.53" y="848.2" text-anchor="middle" font-size="9.11" textLength="35.77" lengthAdjust="spacingAndGlyphs">T:16 Q:8</text>
<text class="t" x="237.21" y="835.8" text-anchor="middle" font-size="9.11" textLength="36.97" lengthAdjust="spacingAndGlyphs">Read Seq</text>
<text class="t" x="237.21" y="848.2" text-anchor="middle" font-size="9.11" textLength="41.03" lengthAdjust="spacingAndGlyphs">T:16 Q:16</text>
<text class="t" x="285.89" y="835.8" text-anchor="middle" font-size="9.11" textLength="38.07" lengthAdjust="spacingAndGlyphs">Read Rnd</text>
<text class="t" x="285.89" y="848.2" text-anchor="middle" font-size="9.11" textLength="35.77" lengthAdjust="spacingAndGlyphs">T:16 Q:4</text>
<text class="t" x="334.58" y="835.8" text-anchor="middle" font-size="9.11" textLength="38.07" lengthAdjust="spacingAndGlyphs">Read Rnd</text>
<text class="t" x="334.58" y="848.2" text-anchor="middle" font-size="9.11" textLength="35.77" lengthAdjust="spacingAndGlyphs">T:16 Q:8</text>
<text class="t" x="383.26" y="835.8" text-anchor="middle" font-size="9.11" textLength="38.07" lengthAdjust="spacingAndGlyphs">Read Rnd</text>
<text class="t" x="383.26" y="848.2" text-anchor="middle" font-size="9.11" textLength="41.03" lengthAdjust="spacingAndGlyphs">T:16 Q:16</text>
<text class="h" x="275.9" y="717.8" text-anchor="middle" font-size="16.97" textLength="305.37" lengthAdjust="spacingAndGlyphs">SQLIO Average Latencies - 4KB Blocksize</text>
<rect x="423.7" y="771.15" width="5.9" height="5.9" fill="#4f81bd"/>
<text class="t" x="432.1" y="777.5" font-size="9.11" textLength="18.66" lengthAdjust="spacingAndGlyphs">Intel</text>
<rect x="423.7" y="789.75" width="5.9" height="5.9" fill="#c0504d"/>
<text class="t" x="432.1" y="796.1" font-size="9.11" textLength="30.16" lengthAdjust="spacingAndGlyphs">Emulex</text>
<rect x="423.7" y="808.35" width="5.9" height="5.9" fill="#9bbb59"/>
<text class="t" x="432.1" y="814.7" font-size="9.11" textLength="27.84" lengthAdjust="spacingAndGlyphs">QLogic</text></g>
<g><line class="g" x1="509.2" y1="803.87" x2="801.8" y2="803.87"/>
<line class="g" x1="509.2" y1="792.44" x2="801.8" y2="792.44"/>
<line class="g" x1="509.2" y1="781.01" x2="801.8" y2="781.01"/>
<line class="g" x1="509.2" y1="769.59" x2="801.8" y2="769.59"/>
<line class="g" x1="509.2" y1="758.16" x2="801.8" y2="758.16"/>
<line class="g" x1="509.2" y1="746.73" x2="801.8" y2="746.73"/>
<line class="g" x1="509.2" y1="735.3" x2="801.8" y2="735.3"/>
<rect x="517.51" y="811.81" width="10.72" height="3.49" fill="#4f81bd"/>
<rect x="528.22" y="811.81" width="10.72" height="3.49" fill="#c0504d"/>
<rect x="538.94" y="811.81" width="10.72" height="3.49" fill="#9bbb59"/>
<rect x="566.27" y="806.16" width="10.72" height="9.14" fill="#4f81bd"/>
<rect x="576.99" y="806.16" width="10.72" height="9.14" fill="#c0504d"/>
<rect x="587.71" y="806.16" width="10.72" height="9.14" fill="#9bbb59"/>
<rect x="615.04" y="797.64" width="10.72" height="17.66" fill="#4f81bd"/>
<rect x="625.76" y="797.01" width="10.72" height="18.29" fill="#c0504d"/>
<rect x="636.48" y="794.39" width="10.72" height="20.91" fill="#9bbb59"/>
<rect x="663.81" y="799.41" width="10.72" height="15.89" fill="#4f81bd"/>
<rect x="674.52" y="798.27" width="10.72" height="17.03" fill="#c0504d"/>
<rect x="685.24" y="798.27" width="10.72" height="17.03" fill="#9bbb59"/>
<rect x="712.57" y="780.61" width="10.72" height="34.69" fill="#4f81bd"/>
<rect x="723.29" y="781.3" width="10.72" height="34" fill="#c0504d"/>
<rect x="734.01" y="780.61" width="10.72" height="34.69" fill="#9bbb59"/>
<rect x="761.34" y="745.99" width="10.72" height="69.31" fill="#4f81bd"/>
<rect x="772.06" y="746.61" width="10.72" height="68.69" fill="#c0504d"/>
<rect x="782.78" y="745.99" width="10.72" height="69.31" fill="#9bbb59"/>
<path class="a" d="M509.2 735.3V815.3H801.8"/>
<path class="a" d="M506.6 815.3H509.2M506.6 803.87H509.2M506.6 792.44H509.2M506.6 781.01H509.2M506.6 769.59H509.2M506.6 758.16H509.2M506.6 746.73H509.2M506.6 735.3H509.2M509.2 815.3V818.8M557.97 815.3V818.8M606.73 815.3V818.8M655.5 815.3V818.8M704.27 815.3V818.8M753.03 815.3V818.8M801.8 815.3V818.8"/>
<text class="t" x="499.4" y="818.7" text-anchor="end" font-size="9.11" textLength="5.17" lengthAdjust="spacingAndGlyphs">0</text>
<text class="t" x="499.4" y="807.27" text-anchor="end" font-size="9.11" textLength="10.33" lengthAdjust="spacingAndGlyphs">20</text>
<text class="t" x="499.4" y="795.84" text-anchor="end" font-size="9.11" textLength="10.33" lengthAdjust="spacingAndGlyphs">40</text>
<text class="t" x="499.4" y="784.41" text-anchor="end" font-size="9.11" textLength="10.33" lengthAdjust="spacingAndGlyphs">60</text>
<text class="t" x="499.4" y="772.99" text-anchor="end" font-size="9.11" textLength="10.33" lengthAdjust="spacingAndGlyphs">80</text>
<text class="t" x="499.4" y="761.56" text-anchor="end" font-size="9.11" textLength="15.5" lengthAdjust="spacingAndGlyphs">100</text>
<text class="t" x="499.4" y="750.13" text-anchor="end" font-size="9.11" textLength="15.5" lengthAdjust="spacingAndGlyphs">120</text>
<text class="t" x="499.4" y="738.7" text-anchor="end" font-size="9.11" textLength="15.5" lengthAdjust="spacingAndGlyphs">140</text>
<text class="t" x="533.58" y="835.8" text-anchor="middle" font-size="9.11" textLength="39.49" lengthAdjust="spacingAndGlyphs">Write Seq</text>
<text class="t" x="533.58" y="848.2" text-anchor="middle" font-size="9.11" textLength="35.77" lengthAdjust="spacingAndGlyphs">T:16 Q:4</text>
<text class="t" x="582.35" y="835.8" text-anchor="middle" font-size="9.11" textLength="39.49" lengthAdjust="spacingAndGlyphs">Write Seq</text>
<text class="t" x="582.35" y="848.2" text-anchor="middle" font-size="9.11" textLength="35.77" lengthAdjust="spacingAndGlyphs">T:16 Q:8</text>
<text class="t" x="631.12" y="835.8" text-anchor="middle" font-size="9.11" textLength="39.49" lengthAdjust="spacingAndGlyphs">Write Seq</text>
<text class="t" x="631.12" y="848.2" text-anchor="middle" font-size="9.11" textLength="41.03" lengthAdjust="spacingAndGlyphs">T:16 Q:16</text>
<text class="t" x="679.88" y="835.8" text-anchor="middle" font-size="9.11" textLength="40.58" lengthAdjust="spacingAndGlyphs">Write Rnd</text>
<text class="t" x="679.88" y="848.2" text-anchor="middle" font-size="9.11" textLength="35.77" lengthAdjust="spacingAndGlyphs">T:16 Q:4</text>
<text class="t" x="728.65" y="835.8" text-anchor="middle" font-size="9.11" textLength="40.58" lengthAdjust="spacingAndGlyphs">Write Rnd</text>
<text class="t" x="728.65" y="848.2" text-anchor="middle" font-size="9.11" textLength="35.77" lengthAdjust="spacingAndGlyphs">T:16 Q:8</text>
<text class="t" x="777.42" y="835.8" text-anchor="middle" font-size="9.11" textLength="40.58" lengthAdjust="spacingAndGlyphs">Write Rnd</text>
<text class="t" x="777.42" y="848.2" text-anchor="middle" font-size="9.11" textLength="41.03" lengthAdjust="spacingAndGlyphs">T:16 Q:16</text>
<text class="h" x="669.9" y="717.8" text-anchor="middle" font-size="16.97" textLength="305.37" lengthAdjust="spacingAndGlyphs">SQLIO Average Latencies - 4KB Blocksize</text>
<rect x="818" y="771.15" width="5.9" height="5.9" fill="#4f81bd"/>
<text class="t" x="826.5" y="777.5" font-size="9.11" textLength="18.66" lengthAdjust="spacingAndGlyphs">Intel</text>
<rect x="818" y="789.75" width="5.9" height="5.9" fill="#c0504d"/>
<text class="t" x="826.5" y="796.1" font-size="9.11" textLength="30.16" lengthAdjust="spacingAndGlyphs">Emulex</text>
<rect x="818" y="808.35" width="5.9" height="5.9" fill="#9bbb59"/>
<text class="t" x="826.5" y="814.7" font-size="9.11" textLength="27.84" lengthAdjust="spacingAndGlyphs">QLogic</text></g>
<g><line class="g" x1="115.5" y1="968.94" x2="407.6" y2="968.94"/>
<line class="g" x1="115.5" y1="952.78" x2="407.6" y2="952.78"/>
<line class="g" x1="115.5" y1="936.62" x2="407.6" y2="936.62"/>
<line class="g" x1="115.5" y1="920.46" x2="407.6" y2="920.46"/>
<line class="g" x1="115.5" y1="904.3" x2="407.6" y2="904.3"/>
<rect x="123.79" y="980.49" width="10.7" height="4.61" fill="#4f81bd"/>
<rect x="134.49" y="979.44" width="10.7" height="5.66" fill="#c0504d"/>
<rect x="145.19" y="979.44" width="10.7" height="5.66" fill="#9bbb59"/>
<rect x="172.48" y="975.24" width="10.7" height="9.86" fill="#4f81bd"/>
<rect x="183.18" y="974.35" width="10.7" height="10.75" fill="#c0504d"/>
<rect x="193.87" y="974.35" width="10.7" height="10.75" fill="#9bbb59"/>
<rect x="221.16" y="963.45" width="10.7" height="21.65" fill="#4f81bd"/>
<rect x="231.86" y="961.67" width="10.7" height="23.43" fill="#c0504d"/>
<rect x="242.56" y="960.13" width="10.7" height="24.97" fill="#9bbb59"/>
<rect x="269.84" y="969.59" width="10.7" height="15.51" fill="#4f81bd"/>
<rect x="280.54" y="969.59" width="10.7" height="15.51" fill="#c0504d"/>
<rect x="291.24" y="969.1" width="10.7" height="16" fill="#9bbb59"/>
<rect x="318.53" y="951.16" width="10.7" height="33.94" fill="#4f81bd"/>
<rect x="329.23" y="952.7" width="10.7" height="32.4" fill="#c0504d"/>
<rect x="339.92" y="952.05" width="10.7" height="33.05" fill="#9bbb59"/>
<rect x="367.21" y="915.05" width="10.7" height="70.05" fill="#4f81bd"/>
<rect x="377.91" y="917.47" width="10.7" height="67.63" fill="#c0504d"/>
<rect x="388.61" y="917.47" width="10.7" height="67.63" fill="#9bbb59"/>
<path class="a" d="M115.5 904.3V985.1H407.6"/>
<path class="a" d="M112.9 985.1H115.5M112.9 968.94H115.5M112.9 952.78H115.5M112.9 936.62H115.5M112.9 920.46H115.5M112.9 904.3H115.5M115.5 985.1V988.6M164.18 985.1V988.6M212.87 985.1V988.6M261.55 985.1V988.6M310.23 985.1V988.6M358.92 985.1V988.6M407.6 985.1V988.6"/>
<text class="t" x="105.7" y="988.5" text-anchor="end" font-size="9.11" textLength="5.17" lengthAdjust="spacingAndGlyphs">0</text>
<text class="t" x="105.7" y="972.34" text-anchor="end" font-size="9.11" textLength="10.33" lengthAdjust="spacingAndGlyphs">20</text>
<text class="t" x="105.7" y="956.18" text-anchor="end" font-size="9.11" textLength="10.33" lengthAdjust="spacingAndGlyphs">40</text>
<text class="t" x="105.7" y="940.02" text-anchor="end" font-size="9.11" textLength="10.33" lengthAdjust="spacingAndGlyphs">60</text>
<text class="t" x="105.7" y="923.86" text-anchor="end" font-size="9.11" textLength="10.33" lengthAdjust="spacingAndGlyphs">80</text>
<text class="t" x="105.7" y="907.7" text-anchor="end" font-size="9.11" textLength="15.5" lengthAdjust="spacingAndGlyphs">100</text>
<text class="t" x="139.84" y="1005.2" text-anchor="middle" font-size="9.11" textLength="36.97" lengthAdjust="spacingAndGlyphs">Read Seq</text>
<text class="t" x="139.84" y="1017.6" text-anchor="middle" font-size="9.11" textLength="35.77" lengthAdjust="spacingAndGlyphs">T:16 Q:4</text>
<text class="t" x="188.53" y="1005.2" text-anchor="middle" font-size="9.11" textLength="36.97" lengthAdjust="spacingAndGlyphs">Read Seq</text>
<text class="t" x="188.53" y="1017.6" text-anchor="middle" font-size="9.11" textLength="35.77" lengthAdjust="spacingAndGlyphs">T:16 Q:8</text>
<text class="t" x="237.21" y="1005.2" text-anchor="middle" font-size="9.11" textLength="36.97" lengthAdjust="spacingAndGlyphs">Read Seq</text>
<text class="t" x="237.21" y="1017.6" text-anchor="middle" font-size="9.11" textLength="41.03" lengthAdjust="spacingAndGlyphs">T:16 Q:16</text>
<text class="t" x="285.89" y="1005.2" text-anchor="middle" font-size="9.11" textLength="38.07" lengthAdjust="spacingAndGlyphs">Read Rnd</text>
<text class="t" x="285.89" y="1017.6" text-anchor="middle" font-size="9.11" textLength="35.77" lengthAdjust="spacingAndGlyphs">T:16 Q:4</text>
<text class="t" x="334.58" y="1005.2" text-anchor="middle" font-size="9.11" textLength="38.07" lengthAdjust="spacingAndGlyphs">Read Rnd</text>
<text class="t" x="334.58" y="1017.6" text-anchor="middle" font-size="9.11" textLength="35.77" lengthAdjust="spacingAndGlyphs">T:16 Q:8</text>
<text class="t" x="383.26" y="1005.2" text-anchor="middle" font-size="9.11" textLength="38.07" lengthAdjust="spacingAndGlyphs">Read Rnd</text>
<text class="t" x="383.26" y="1017.6" text-anchor="middle" font-size="9.11" textLength="41.03" lengthAdjust="spacingAndGlyphs">T:16 Q:16</text>
<text class="h" x="275.9" y="887.2" text-anchor="middle" font-size="16.97" textLength="305.37" lengthAdjust="spacingAndGlyphs">SQLIO Average Latencies - 8KB Blocksize</text>
<rect x="423.7" y="940.55" width="5.9" height="5.9" fill="#4f81bd"/>
<text class="t" x="432.1" y="946.9" font-size="9.11" textLength="18.66" lengthAdjust="spacingAndGlyphs">Intel</text>
<rect x="423.7" y="959.15" width="5.9" height="5.9" fill="#c0504d"/>
<text class="t" x="432.1" y="965.5" font-size="9.11" textLength="30.16" lengthAdjust="spacingAndGlyphs">Emulex</text>
<rect x="423.7" y="977.75" width="5.9" height="5.9" fill="#9bbb59"/>
<text class="t" x="432.1" y="984.1" font-size="9.11" textLength="27.84" lengthAdjust="spacingAndGlyphs">QLogic</text></g>
<g><line class="g" x1="509.2" y1="973.56" x2="801.8" y2="973.56"/>
<line class="g" x1="509.2" y1="962.01" x2="801.8" y2="962.01"/>
<line class="g" x1="509.2" y1="950.47" x2="801.8" y2="950.47"/>
<line class="g" x1="509.2" y1="938.93" x2="801.8" y2="938.93"/>
<line class="g" x1="509.2" y1="927.39" x2="801.8" y2="927.39"/>
<line class="g" x1="509.2" y1="915.84" x2="801.8" y2="915.84"/>
<line class="g" x1="509.2" y1="904.3" x2="801.8" y2="904.3"/>
<rect x="517.51" y="980.48" width="10.72" height="4.62" fill="#4f81bd"/>
<rect x="528.22" y="980.48" width="10.72" height="4.62" fill="#c0504d"/>
<rect x="538.94" y="980.48" width="10.72" height="4.62" fill="#9bbb59"/>
<rect x="566.27" y="974.37" width="10.72" height="10.73" fill="#4f81bd"/>
<rect x="576.99" y="974.37" width="10.72" height="10.73" fill="#c0504d"/>
<rect x="587.71" y="974.37" width="10.72" height="10.73" fill="#9bbb59"/>
<rect x="615.04" y="962.53" width="10.72" height="22.57" fill="#4f81bd"/>
<rect x="625.76" y="962.53" width="10.72" height="22.57" fill="#c0504d"/>
<rect x="636.48" y="960.11" width="10.72" height="24.99" fill="#9bbb59"/>
<rect x="663.81" y="969.11" width="10.72" height="15.99" fill="#4f81bd"/>
<rect x="674.52" y="968.02" width="10.72" height="17.08" fill="#c0504d"/>
<rect x="685.24" y="968.02" width="10.72" height="17.08" fill="#9bbb59"/>
<rect x="712.57" y="950.93" width="10.72" height="34.17" fill="#4f81bd"/>
<rect x="723.29" y="950.93" width="10.72" height="34.17" fill="#c0504d"/>
<rect x="734.01" y="950.93" width="10.72" height="34.17" fill="#9bbb59"/>
<rect x="761.34" y="915.03" width="10.72" height="70.07" fill="#4f81bd"/>
<rect x="772.06" y="915.03" width="10.72" height="70.07" fill="#c0504d"/>
<rect x="782.78" y="916.36" width="10.72" height="68.74" fill="#9bbb59"/>
<path class="a" d="M509.2 904.3V985.1H801.8"/>
<path class="a" d="M506.6 985.1H509.2M506.6 973.56H509.2M506.6 962.01H509.2M506.6 950.47H509.2M506.6 938.93H509.2M506.6 927.39H509.2M506.6 915.84H509.2M506.6 904.3H509.2M509.2 985.1V988.6M557.97 985.1V988.6M606.73 985.1V988.6M655.5 985.1V988.6M704.27 985.1V988.6M753.03 985.1V988.6M801.8 985.1V988.6"/>
<text class="t" x="499.4" y="988.5" text-anchor="end" font-size="9.11" textLength="5.17" lengthAdjust="spacingAndGlyphs">0</text>
<text class="t" x="499.4" y="976.96" text-anchor="end" font-size="9.11" textLength="10.33" lengthAdjust="spacingAndGlyphs">20</text>
<text class="t" x="499.4" y="965.41" text-anchor="end" font-size="9.11" textLength="10.33" lengthAdjust="spacingAndGlyphs">40</text>
<text class="t" x="499.4" y="953.87" text-anchor="end" font-size="9.11" textLength="10.33" lengthAdjust="spacingAndGlyphs">60</text>
<text class="t" x="499.4" y="942.33" text-anchor="end" font-size="9.11" textLength="10.33" lengthAdjust="spacingAndGlyphs">80</text>
<text class="t" x="499.4" y="930.79" text-anchor="end" font-size="9.11" textLength="15.5" lengthAdjust="spacingAndGlyphs">100</text>
<text class="t" x="499.4" y="919.24" text-anchor="end" font-size="9.11" textLength="15.5" lengthAdjust="spacingAndGlyphs">120</text>
<text class="t" x="499.4" y="907.7" text-anchor="end" font-size="9.11" textLength="15.5" lengthAdjust="spacingAndGlyphs">140</text>
<text class="t" x="533.58" y="1005.2" text-anchor="middle" font-size="9.11" textLength="39.49" lengthAdjust="spacingAndGlyphs">Write Seq</text>
<text class="t" x="533.58" y="1017.6" text-anchor="middle" font-size="9.11" textLength="35.77" lengthAdjust="spacingAndGlyphs">T:16 Q:4</text>
<text class="t" x="582.35" y="1005.2" text-anchor="middle" font-size="9.11" textLength="39.49" lengthAdjust="spacingAndGlyphs">Write Seq</text>
<text class="t" x="582.35" y="1017.6" text-anchor="middle" font-size="9.11" textLength="35.77" lengthAdjust="spacingAndGlyphs">T:16 Q:8</text>
<text class="t" x="631.12" y="1005.2" text-anchor="middle" font-size="9.11" textLength="39.49" lengthAdjust="spacingAndGlyphs">Write Seq</text>
<text class="t" x="631.12" y="1017.6" text-anchor="middle" font-size="9.11" textLength="41.03" lengthAdjust="spacingAndGlyphs">T:16 Q:16</text>
<text class="t" x="679.88" y="1005.2" text-anchor="middle" font-size="9.11" textLength="40.58" lengthAdjust="spacingAndGlyphs">Write Rnd</text>
<text class="t" x="679.88" y="1017.6" text-anchor="middle" font-size="9.11" textLength="35.77" lengthAdjust="spacingAndGlyphs">T:16 Q:4</text>
<text class="t" x="728.65" y="1005.2" text-anchor="middle" font-size="9.11" textLength="40.58" lengthAdjust="spacingAndGlyphs">Write Rnd</text>
<text class="t" x="728.65" y="1017.6" text-anchor="middle" font-size="9.11" textLength="35.77" lengthAdjust="spacingAndGlyphs">T:16 Q:8</text>
<text class="t" x="777.42" y="1005.2" text-anchor="middle" font-size="9.11" textLength="40.58" lengthAdjust="spacingAndGlyphs">Write Rnd</text>
<text class="t" x="777.42" y="1017.6" text-anchor="middle" font-size="9.11" textLength="41.03" lengthAdjust="spacingAndGlyphs">T:16 Q:16</text>
<text class="h" x="669.9" y="887.2" text-anchor="middle" font-size="16.97" textLength="305.37" lengthAdjust="spacingAndGlyphs">SQLIO Average Latencies - 8KB Blocksize</text>
<rect x="818" y="940.55" width="5.9" height="5.9" fill="#4f81bd"/>
<text class="t" x="826.5" y="946.9" font-size="9.11" textLength="18.66" lengthAdjust="spacingAndGlyphs">Intel</text>
<rect x="818" y="959.15" width="5.9" height="5.9" fill="#c0504d"/>
<text class="t" x="826.5" y="965.5" font-size="9.11" textLength="30.16" lengthAdjust="spacingAndGlyphs">Emulex</text>
<rect x="818" y="977.75" width="5.9" height="5.9" fill="#9bbb59"/>
<text class="t" x="826.5" y="984.1" font-size="9.11" textLength="27.84" lengthAdjust="spacingAndGlyphs">QLogic</text></g>
<g><line class="g" x1="115.5" y1="1135.67" x2="407.6" y2="1135.67"/>
<line class="g" x1="115.5" y1="1116.43" x2="407.6" y2="1116.43"/>
<line class="g" x1="115.5" y1="1097.2" x2="407.6" y2="1097.2"/>
<rect x="123.79" y="1143.98" width="10.7" height="10.92" fill="#4f81bd"/>
<rect x="134.49" y="1143.09" width="10.7" height="11.81" fill="#c0504d"/>
<rect x="145.19" y="1143.09" width="10.7" height="11.81" fill="#9bbb59"/>
<rect x="172.48" y="1131.28" width="10.7" height="23.62" fill="#4f81bd"/>
<rect x="183.18" y="1131.28" width="10.7" height="23.62" fill="#c0504d"/>
<rect x="193.87" y="1131.28" width="10.7" height="23.62" fill="#9bbb59"/>
<rect x="221.16" y="1108.12" width="10.7" height="46.78" fill="#4f81bd"/>
<rect x="231.86" y="1107.05" width="10.7" height="47.85" fill="#c0504d"/>
<rect x="242.56" y="1108.12" width="10.7" height="46.78" fill="#9bbb59"/>
<rect x="269.84" y="1143.98" width="10.7" height="10.92" fill="#4f81bd"/>
<rect x="280.54" y="1143.98" width="10.7" height="10.92" fill="#c0504d"/>
<rect x="291.24" y="1143.98" width="10.7" height="10.92" fill="#9bbb59"/>
<rect x="318.53" y="1131.28" width="10.7" height="23.62" fill="#4f81bd"/>
<rect x="329.23" y="1131.28" width="10.7" height="23.62" fill="#c0504d"/>
<rect x="339.92" y="1131.28" width="10.7" height="23.62" fill="#9bbb59"/>
<rect x="367.21" y="1108.12" width="10.7" height="46.78" fill="#4f81bd"/>
<rect x="377.91" y="1108.12" width="10.7" height="46.78" fill="#c0504d"/>
<rect x="388.61" y="1107.05" width="10.7" height="47.85" fill="#9bbb59"/>
<path class="a" d="M115.5 1097.2V1154.9H407.6"/>
<path class="a" d="M112.9 1154.9H115.5M112.9 1135.67H115.5M112.9 1116.43H115.5M112.9 1097.2H115.5M115.5 1154.9V1158.4M164.18 1154.9V1158.4M212.87 1154.9V1158.4M261.55 1154.9V1158.4M310.23 1154.9V1158.4M358.92 1154.9V1158.4M407.6 1154.9V1158.4"/>
<text class="t" x="105.7" y="1158.3" text-anchor="end" font-size="9.11" textLength="5.17" lengthAdjust="spacingAndGlyphs">0</text>
<text class="t" x="105.7" y="1139.07" text-anchor="end" font-size="9.11" textLength="10.33" lengthAdjust="spacingAndGlyphs">50</text>
<text class="t" x="105.7" y="1119.83" text-anchor="end" font-size="9.11" textLength="15.5" lengthAdjust="spacingAndGlyphs">100</text>
<text class="t" x="105.7" y="1100.6" text-anchor="end" font-size="9.11" textLength="15.5" lengthAdjust="spacingAndGlyphs">150</text>
<text class="t" x="139.84" y="1175" text-anchor="middle" font-size="9.11" textLength="36.97" lengthAdjust="spacingAndGlyphs">Read Seq</text>
<text class="t" x="139.84" y="1187.4" text-anchor="middle" font-size="9.11" textLength="35.77" lengthAdjust="spacingAndGlyphs">T:16 Q:4</text>
<text class="t" x="188.53" y="1175" text-anchor="middle" font-size="9.11" textLength="36.97" lengthAdjust="spacingAndGlyphs">Read Seq</text>
<text class="t" x="188.53" y="1187.4" text-anchor="middle" font-size="9.11" textLength="35.77" lengthAdjust="spacingAndGlyphs">T:16 Q:8</text>
<text class="t" x="237.21" y="1175" text-anchor="middle" font-size="9.11" textLength="36.97" lengthAdjust="spacingAndGlyphs">Read Seq</text>
<text class="t" x="237.21" y="1187.4" text-anchor="middle" font-size="9.11" textLength="41.03" lengthAdjust="spacingAndGlyphs">T:16 Q:16</text>
<text class="t" x="285.89" y="1175" text-anchor="middle" font-size="9.11" textLength="38.07" lengthAdjust="spacingAndGlyphs">Read Rnd</text>
<text class="t" x="285.89" y="1187.4" text-anchor="middle" font-size="9.11" textLength="35.77" lengthAdjust="spacingAndGlyphs">T:16 Q:4</text>
<text class="t" x="334.58" y="1175" text-anchor="middle" font-size="9.11" textLength="38.07" lengthAdjust="spacingAndGlyphs">Read Rnd</text>
<text class="t" x="334.58" y="1187.4" text-anchor="middle" font-size="9.11" textLength="35.77" lengthAdjust="spacingAndGlyphs">T:16 Q:8</text>
<text class="t" x="383.26" y="1175" text-anchor="middle" font-size="9.11" textLength="38.07" lengthAdjust="spacingAndGlyphs">Read Rnd</text>
<text class="t" x="383.26" y="1187.4" text-anchor="middle" font-size="9.11" textLength="41.03" lengthAdjust="spacingAndGlyphs">T:16 Q:16</text>
<text class="h" x="275.9" y="1057.1" text-anchor="middle" font-size="16.97" textLength="241.02" lengthAdjust="spacingAndGlyphs">SQLIO Average Latencies - 64KB</text>
<text class="h" x="275.9" y="1078.7" text-anchor="middle" font-size="16.97" textLength="69.5" lengthAdjust="spacingAndGlyphs">Blocksize</text>
<rect x="423.7" y="1121.55" width="5.9" height="5.9" fill="#4f81bd"/>
<text class="t" x="432.1" y="1127.9" font-size="9.11" textLength="18.66" lengthAdjust="spacingAndGlyphs">Intel</text>
<rect x="423.7" y="1140.25" width="5.9" height="5.9" fill="#c0504d"/>
<text class="t" x="432.1" y="1146.6" font-size="9.11" textLength="30.16" lengthAdjust="spacingAndGlyphs">Emulex</text>
<rect x="423.7" y="1158.75" width="5.9" height="5.9" fill="#9bbb59"/>
<text class="t" x="432.1" y="1165.1" font-size="9.11" textLength="27.84" lengthAdjust="spacingAndGlyphs">QLogic</text></g>
<g><line class="g" x1="509.2" y1="1135.67" x2="801.8" y2="1135.67"/>
<line class="g" x1="509.2" y1="1116.43" x2="801.8" y2="1116.43"/>
<line class="g" x1="509.2" y1="1097.2" x2="801.8" y2="1097.2"/>
<rect x="517.51" y="1143.09" width="10.72" height="11.81" fill="#4f81bd"/>
<rect x="528.22" y="1143.09" width="10.72" height="11.81" fill="#c0504d"/>
<rect x="538.94" y="1143.09" width="10.72" height="11.81" fill="#9bbb59"/>
<rect x="566.27" y="1130.86" width="10.72" height="24.04" fill="#4f81bd"/>
<rect x="576.99" y="1130.86" width="10.72" height="24.04" fill="#c0504d"/>
<rect x="587.71" y="1130.86" width="10.72" height="24.04" fill="#9bbb59"/>
<rect x="615.04" y="1105.95" width="10.72" height="48.95" fill="#4f81bd"/>
<rect x="625.76" y="1105.95" width="10.72" height="48.95" fill="#c0504d"/>
<rect x="636.48" y="1104.89" width="10.72" height="50.01" fill="#9bbb59"/>
<rect x="663.81" y="1141.57" width="10.72" height="13.33" fill="#4f81bd"/>
<rect x="674.52" y="1141.57" width="10.72" height="13.33" fill="#c0504d"/>
<rect x="685.24" y="1141.57" width="10.72" height="13.33" fill="#9bbb59"/>
<rect x="712.57" y="1128.24" width="10.72" height="26.66" fill="#4f81bd"/>
<rect x="723.29" y="1127.59" width="10.72" height="27.31" fill="#c0504d"/>
<rect x="734.01" y="1127.59" width="10.72" height="27.31" fill="#9bbb59"/>
<rect x="761.34" y="1100.09" width="10.72" height="54.82" fill="#4f81bd"/>
<rect x="772.06" y="1100.09" width="10.72" height="54.82" fill="#c0504d"/>
<rect x="782.78" y="1100.09" width="10.72" height="54.82" fill="#9bbb59"/>
<path class="a" d="M509.2 1097.2V1154.9H801.8"/>
<path class="a" d="M506.6 1154.9H509.2M506.6 1135.67H509.2M506.6 1116.43H509.2M506.6 1097.2H509.2M509.2 1154.9V1158.4M557.97 1154.9V1158.4M606.73 1154.9V1158.4M655.5 1154.9V1158.4M704.27 1154.9V1158.4M753.03 1154.9V1158.4M801.8 1154.9V1158.4"/>
<text class="t" x="499.4" y="1158.3" text-anchor="end" font-size="9.11" textLength="5.17" lengthAdjust="spacingAndGlyphs">0</text>
<text class="t" x="499.4" y="1139.07" text-anchor="end" font-size="9.11" textLength="15.5" lengthAdjust="spacingAndGlyphs">100</text>
<text class="t" x="499.4" y="1119.83" text-anchor="end" font-size="9.11" textLength="15.5" lengthAdjust="spacingAndGlyphs">200</text>
<text class="t" x="499.4" y="1100.6" text-anchor="end" font-size="9.11" textLength="15.5" lengthAdjust="spacingAndGlyphs">300</text>
<text class="t" x="533.58" y="1175" text-anchor="middle" font-size="9.11" textLength="39.49" lengthAdjust="spacingAndGlyphs">Write Seq</text>
<text class="t" x="533.58" y="1187.4" text-anchor="middle" font-size="9.11" textLength="35.77" lengthAdjust="spacingAndGlyphs">T:16 Q:4</text>
<text class="t" x="582.35" y="1175" text-anchor="middle" font-size="9.11" textLength="39.49" lengthAdjust="spacingAndGlyphs">Write Seq</text>
<text class="t" x="582.35" y="1187.4" text-anchor="middle" font-size="9.11" textLength="35.77" lengthAdjust="spacingAndGlyphs">T:16 Q:8</text>
<text class="t" x="631.12" y="1175" text-anchor="middle" font-size="9.11" textLength="39.49" lengthAdjust="spacingAndGlyphs">Write Seq</text>
<text class="t" x="631.12" y="1187.4" text-anchor="middle" font-size="9.11" textLength="41.03" lengthAdjust="spacingAndGlyphs">T:16 Q:16</text>
<text class="t" x="679.88" y="1175" text-anchor="middle" font-size="9.11" textLength="40.58" lengthAdjust="spacingAndGlyphs">Write Rnd</text>
<text class="t" x="679.88" y="1187.4" text-anchor="middle" font-size="9.11" textLength="35.77" lengthAdjust="spacingAndGlyphs">T:16 Q:4</text>
<text class="t" x="728.65" y="1175" text-anchor="middle" font-size="9.11" textLength="40.58" lengthAdjust="spacingAndGlyphs">Write Rnd</text>
<text class="t" x="728.65" y="1187.4" text-anchor="middle" font-size="9.11" textLength="35.77" lengthAdjust="spacingAndGlyphs">T:16 Q:8</text>
<text class="t" x="777.42" y="1175" text-anchor="middle" font-size="9.11" textLength="40.58" lengthAdjust="spacingAndGlyphs">Write Rnd</text>
<text class="t" x="777.42" y="1187.4" text-anchor="middle" font-size="9.11" textLength="41.03" lengthAdjust="spacingAndGlyphs">T:16 Q:16</text>
<text class="h" x="669.9" y="1057.1" text-anchor="middle" font-size="16.97" textLength="241.02" lengthAdjust="spacingAndGlyphs">SQLIO Average Latencies - 64KB</text>
<text class="h" x="669.9" y="1078.7" text-anchor="middle" font-size="16.97" textLength="69.5" lengthAdjust="spacingAndGlyphs">Blocksize</text>
<rect x="818" y="1121.55" width="5.9" height="5.9" fill="#4f81bd"/>
<text class="t" x="826.5" y="1127.9" font-size="9.11" textLength="18.66" lengthAdjust="spacingAndGlyphs">Intel</text>
<rect x="818" y="1140.25" width="5.9" height="5.9" fill="#c0504d"/>
<text class="t" x="826.5" y="1146.6" font-size="9.11" textLength="30.16" lengthAdjust="spacingAndGlyphs">Emulex</text>
<rect x="818" y="1158.75" width="5.9" height="5.9" fill="#9bbb59"/>
<text class="t" x="826.5" y="1165.1" font-size="9.11" textLength="27.84" lengthAdjust="spacingAndGlyphs">QLogic</text></g>
</svg>
<div class="fl"></div>
</body></html>
